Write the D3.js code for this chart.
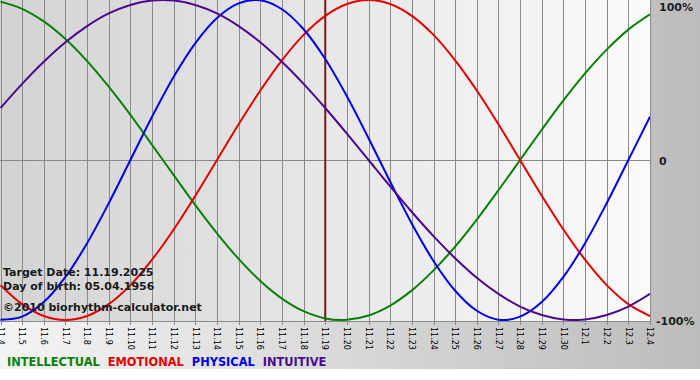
<!DOCTYPE html>
<html>
<head>
<meta charset="utf-8">
<script src="https://cdn.jsdelivr.net/npm/d3@7"></script>
<style>
  body { margin: 0; background: #fff; }
  svg { display: block; font-family: "DejaVu Sans", Verdana, sans-serif; }
</style>
</head>
<body>
<div id="chart"></div>
<script>
// day labels, 11.4 .. 12.4
const days = ['11.4','11.5','11.6','11.7','11.8','11.9','11.10','11.11','11.12','11.13','11.14',
  '11.15','11.16','11.17','11.18','11.19','11.20','11.21','11.22','11.23','11.24','11.25',
  '11.26','11.27','11.28','11.29','11.30','12.1','12.2','12.3','12.4'];

// values (-1 .. 1)
const intellectual = [0.990,0.945,0.866,0.756,0.618,0.458,0.282,0.095,-0.095,-0.282,-0.458,-0.618,-0.756,-0.866,
  -0.945,-0.990,-0.999,-0.972,-0.910,-0.815,-0.690,-0.541,-0.372,-0.189,0.000,0.189,0.372,0.541,0.690,0.815,0.910];
const emotional = [-0.782,-0.901,-0.975,-1.000,-0.975,-0.901,-0.782,-0.623,-0.434,-0.223,0.000,0.223,0.434,0.623,
  0.782,0.901,0.975,1.000,0.975,0.901,0.782,0.623,0.434,0.223,0.000,-0.223,-0.434,-0.623,-0.782,-0.901,-0.975];
const physical = [-0.998,-0.979,-0.888,-0.731,-0.520,-0.270,0.000,0.270,0.520,0.731,0.888,0.979,0.998,0.942,
  0.817,0.631,0.398,0.136,-0.136,-0.398,-0.631,-0.817,-0.942,-0.998,-0.979,-0.888,-0.731,-0.520,-0.270,0.000,0.270];
const intuitive = [0.325,0.476,0.614,0.736,0.837,0.916,0.969,0.997,0.997,0.969,0.916,0.837,0.736,0.614,
  0.476,0.325,0.165,0.000,-0.165,-0.325,-0.476,-0.614,-0.736,-0.837,-0.916,-0.969,-0.997,-0.997,-0.969,-0.916,-0.837];

const seriesNames = ['INTELLECTUAL', 'EMOTIONAL', 'PHYSICAL', 'INTUITIVE'];
const seriesColors = ['#0a800a', '#e00000', '#0000e0', '#4b0a8c'];
const seriesValues = [intellectual, emotional, physical, intuitive];

const targetDay = '11.19';
const infoLines = ['Target Date: 11.19.2025', 'Day of birth: 05.04.1956'];
const credit = '\u00a92010 biorhythm-calculator.net';
const yLabels = [[1, '100%'], [0, '0'], [-1, '-100%']];

const width = 700, height = 380;
const plotW = 650, plotH = 321;

const svg = d3.select('#chart').append('svg')
    .attr('width', width)
    .attr('height', height);

const defs = svg.append('defs');
const bgGrad = defs.append('linearGradient').attr('id', 'bgGrad');
bgGrad.append('stop').attr('offset', '0%').attr('stop-color', '#f4f4f4');
bgGrad.append('stop').attr('offset', '100%').attr('stop-color', '#bcbcbc');
const plotGrad = defs.append('linearGradient').attr('id', 'plotGrad');
plotGrad.append('stop').attr('offset', '0%').attr('stop-color', '#d3d3d3');
plotGrad.append('stop').attr('offset', '100%').attr('stop-color', '#fbfbfb');
defs.append('clipPath').attr('id', 'plotClip')
  .append('rect').attr('width', plotW).attr('height', plotH);

svg.append('rect')
    .attr('width', width)
    .attr('height', 369)
    .attr('fill', 'url(#bgGrad)');
svg.append('rect')
    .attr('width', plotW)
    .attr('height', plotH)
    .attr('fill', 'url(#plotGrad)');

const x = d3.scaleLinear().domain([0, days.length - 1]).range([0.5, plotW]);
const y = d3.scaleLinear().domain([-1, 1]).range([320, 0]);

// grid
svg.append('g').selectAll('line')
  .data(days)
  .join('line')
    .attr('x1', (d, i) => Math.round(x(i)) + 0.5)
    .attr('x2', (d, i) => Math.round(x(i)) + 0.5)
    .attr('y1', 0)
    .attr('y2', plotH + 4)
    .attr('stroke', '#8a8a8a')
    .attr('stroke-width', 1);

svg.append('line')
    .attr('x1', 0).attr('x2', plotW)
    .attr('y1', Math.round(y(0)) + 0.5).attr('y2', Math.round(y(0)) + 0.5)
    .attr('stroke', '#8a8a8a');
svg.append('line')
    .attr('x1', 0).attr('x2', plotW + 0.5)
    .attr('y1', plotH + 0.5).attr('y2', plotH + 0.5)
    .attr('stroke', '#8a8a8a');

// target date marker
const ti = days.indexOf(targetDay);
svg.append('line')
    .attr('x1', x(ti)).attr('x2', x(ti))
    .attr('y1', 0).attr('y2', plotH)
    .attr('stroke', '#7a1a1a')
    .attr('stroke-width', 2);

// day labels
svg.append('g').selectAll('text')
  .data(days)
  .join('text')
    .attr('transform', (d, i) => `translate(${x(i)},327) rotate(90)`)
    .attr('dy', '0.35em')
    .style('font-size', '8px')
    .style('fill', '#000')
    .text(d => d);

// curves
const line = d3.line()
    .x((d, i) => x(i))
    .y(d => y(d))
    .curve(d3.curveCatmullRom.alpha(0.5));

svg.append('g')
    .attr('clip-path', 'url(#plotClip)')
  .selectAll('path')
  .data(seriesValues)
  .join('path')
    .attr('d', line)
    .attr('fill', 'none')
    .attr('stroke', (d, i) => seriesColors[i])
    .attr('stroke-width', 2);

// y labels on the right
svg.append('g').selectAll('text')
  .data(yLabels)
  .join('text')
    .attr('x', d => d[1] === '-100%' ? 656 : 659)
    .attr('y', d => Math.min(Math.max(y(d[0]) + 5, 11), 326))
    .style('font-size', '11px')
    .style('font-weight', 'bold')
    .style('fill', '#1e1e1e')
    .text(d => d[1]);

// info text
svg.append('g').selectAll('text')
  .data(infoLines)
  .join('text')
    .attr('x', 3)
    .attr('y', (d, i) => 276 + i * 14)
    .style('font-size', '11px')
    .style('font-weight', 'bold')
    .style('fill', '#1a1a1a')
    .text(d => d);
svg.append('text')
    .attr('x', 3)
    .attr('y', 311)
    .style('font-size', '11px')
    .style('font-weight', 'bold')
    .style('fill', '#1a1a1a')
    .text(credit);

// legend
const legend = svg.append('text')
    .attr('x', 7)
    .attr('y', 366)
    .style('font-size', '11.4px')
    .style('font-weight', 'bold')
    .style('word-spacing', '4px');
seriesNames.forEach((name, i) => {
  legend.append('tspan')
      .attr('fill', seriesColors[i])
      .text((i ? ' ' : '') + name);
});
</script>
</body>
</html>
